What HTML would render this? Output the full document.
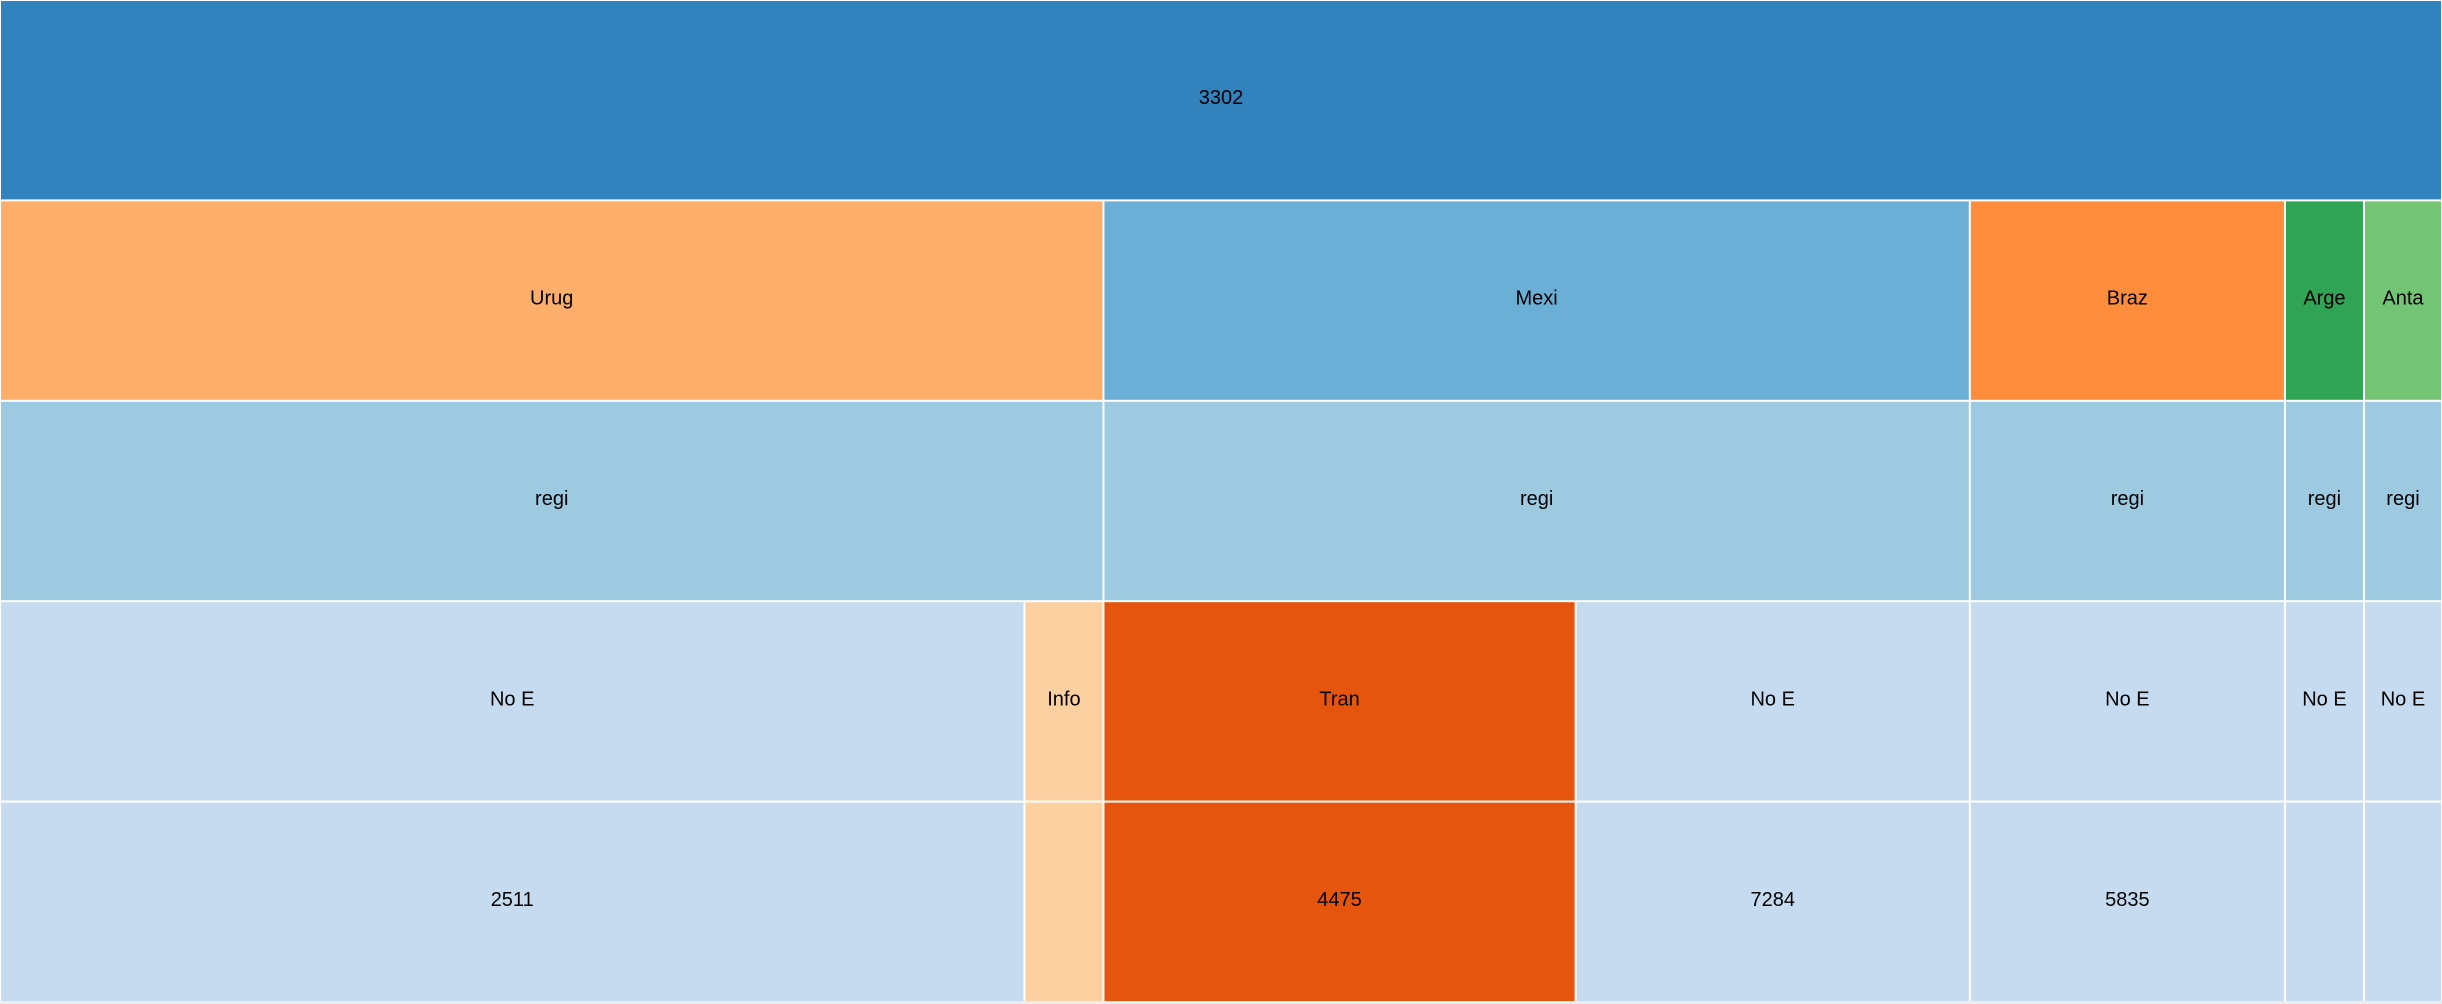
<!DOCTYPE html>
<html><head><meta charset="utf-8"><style>
html,body{margin:0;padding:0;background:#fff;width:2442px;height:1004px;overflow:hidden}
svg{display:block}
text{font-family:"Liberation Sans",sans-serif;font-size:20px;fill:#000}
</style></head><body>
<svg id="chart" width="2442" height="1004">
<rect x="0" y="1001" width="2442" height="3" fill="#eeeeee"/>
</svg>
<script>
const rootLabel = "3302";
const countries = ["Urug","Mexi","Braz","Arge","Anta"];
const countryColors = ["#fdae6b","#6baed6","#fd8d3c","#31a354","#74c476"];
const leafCountry = [0,0,1,1,2,3,4];
const leafLabels = ["No E","Info","Tran","No E","No E","No E","No E"];
const leafValues = [1024,79,472,394,315,79,78];
const leafColors = ["#c6dbef","#fdd0a2","#e6550d","#c6dbef","#c6dbef","#c6dbef","#c6dbef"];
const leafValueLabels = ["2511","","4475","7284","5835","",""];

const svg = document.getElementById('chart');
const NS = "http://www.w3.org/2000/svg";
const W = 2442, rowH = 200.4;
const total = leafValues.reduce((a,b)=>a+b,0);
const xs = v => v / total * W;

function cell(x0, x1, row, color, label, name){
  const g = document.createElementNS(NS,'g');
  
  
  const r = document.createElementNS(NS,'rect');
  r.setAttribute('x', x0 + 1);
  r.setAttribute('y', row*rowH + 1);
  r.setAttribute('width', Math.max(0, x1 - x0 - 2));
  r.setAttribute('height', rowH - 2);
  r.setAttribute('fill', color);
  
  
  g.appendChild(r);
  if (label) {
    const t = document.createElementNS(NS,'text');
    t.setAttribute('x', (x0 + x1)/2);
    t.setAttribute('y', row*rowH + rowH/2 + 4);
    t.setAttribute('text-anchor','middle');
    t.textContent = label;
    
    
    g.appendChild(t);
  }
  svg.appendChild(g);
}

cell(0, W, 0, "#3182bd", rootLabel, "root-node");
let cum = 0;
const cStart = [], cEnd = [];
leafValues.forEach((v,i)=>{
  const c = leafCountry[i];
  if (cStart[c] === undefined) cStart[c] = cum;
  cum += v; cEnd[c] = cum;
});
countries.forEach((c,i)=>{
  cell(xs(cStart[i]), xs(cEnd[i]), 1, countryColors[i], c, 'country-' + c.toLowerCase());
  cell(xs(cStart[i]), xs(cEnd[i]), 2, "#9ecae1", "regi", 'region-' + c.toLowerCase());
});
cum = 0;
leafValues.forEach((v,i)=>{
  const x0 = xs(cum), x1 = xs(cum + v);
  cell(x0, x1, 3, leafColors[i], leafLabels[i], 'category-' + i);
  cell(x0, x1, 4, leafColors[i], leafValueLabels[i], 'value-' + i);
  cum += v;
});
</script>
</body></html>
